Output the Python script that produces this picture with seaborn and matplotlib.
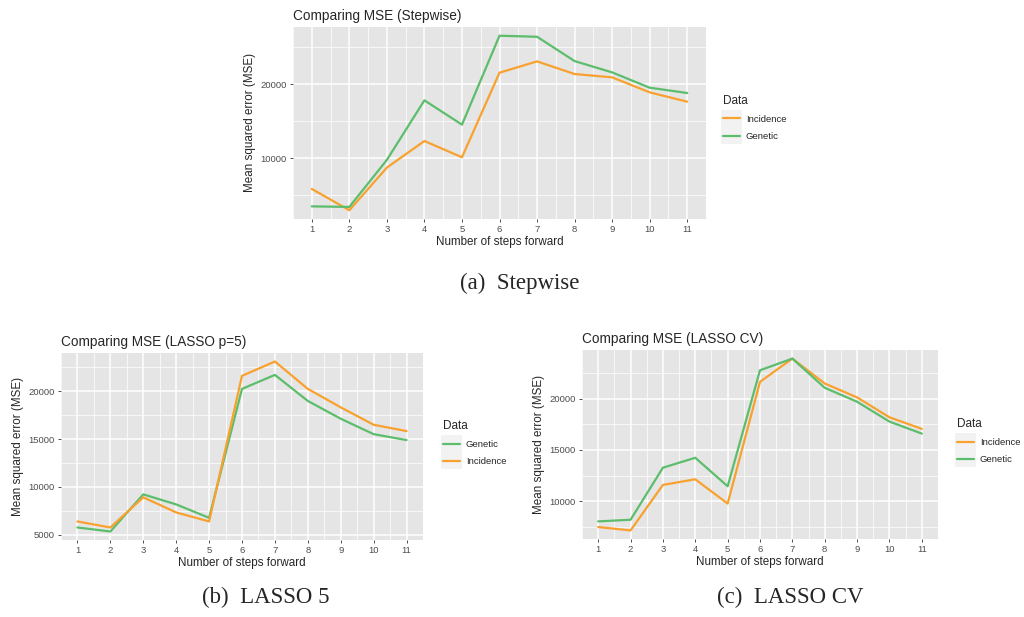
import numpy as np
import pandas as pd
import matplotlib
matplotlib.use("Agg")
import matplotlib.pyplot as plt
from matplotlib.patches import Rectangle
from matplotlib.ticker import MultipleLocator
import seaborn as sns

# ---- data ----
steps = list(range(1, 12))

step_genetic   = [3500, 3420, 9780, 17840, 14550, 26580, 26440, 23150, 21620, 19550, 18830]
step_incidence = [5860, 2970, 8740, 12340, 10140, 21580, 23110, 21400, 20950, 18920, 17660]

l5_genetic   = [5770, 5350, 9230, 8180, 6780, 20250, 21710, 18990, 17130, 15520, 14900]
l5_incidence = [6400, 5770, 8920, 7340, 6400, 21610, 23110, 20250, 18320, 16500, 15840]

cv_genetic   = [8030, 8190, 13270, 14240, 11460, 22780, 23920, 21070, 19710, 17770, 16600]
cv_incidence = [7480, 7150, 11590, 12140, 9770, 21650, 23920, 21490, 20130, 18190, 17060]

panels = [
    # title, genetic, incidence, legend order, caption, y major step
    ("Comparing MSE (Stepwise)", step_genetic, step_incidence, ["Incidence", "Genetic"], "(a)  Stepwise", 10000),
    ("Comparing MSE (LASSO p=5)", l5_genetic, l5_incidence, ["Genetic", "Incidence"], "(b)  LASSO 5", 5000),
    ("Comparing MSE (LASSO CV)", cv_genetic, cv_incidence, ["Incidence", "Genetic"], "(c)  LASSO CV", 5000),
]

palette = {"Incidence": "#F9A12E", "Genetic": "#5CBD6C"}

sns.set_theme(style="darkgrid")
plt.rcParams["font.family"] = ["Liberation Sans", "DejaVu Sans"]
plt.rcParams["axes.facecolor"] = "#E5E5E5"

fig = plt.figure(figsize=(10.24, 6.17), dpi=100)
W, H = 1024, 617

def px_axes(x0, y0, x1, y1):
    return fig.add_axes([x0 / W, 1 - y1 / H, (x1 - x0) / W, (y1 - y0) / H])

boxes = [(293, 27, 706, 219), (61, 353, 423, 540), (582, 350, 938, 539)]
leg_anchor = [(719, 91), (439, 416), (953, 414)]
captions_xy = [(520, 283), (266, 597), (790, 597)]

for (title, gen, inc, order, cap, ystep), box, lanc, cxy in zip(panels, boxes, leg_anchor, captions_xy):
    ax = px_axes(*box)
    df = pd.DataFrame({
        "step": steps * 2,
        "mse": gen + inc,
        "Data": ["Genetic"] * len(steps) + ["Incidence"] * len(steps),
    })
    sns.lineplot(data=df, x="step", y="mse", hue="Data", hue_order=order,
                 palette=palette, lw=1.6, ax=ax)
    allv = np.array(gen + inc)
    pad = 0.05 * (allv.max() - allv.min())
    ax.set_ylim(allv.min() - pad, allv.max() + pad)
    ax.set_xlim(0.5, 11.5)
    ax.xaxis.set_major_locator(MultipleLocator(1))
    ax.xaxis.set_minor_locator(MultipleLocator(0.5))
    ax.yaxis.set_major_locator(MultipleLocator(ystep))
    ax.yaxis.set_minor_locator(MultipleLocator(ystep / 2))
    ax.grid(which="major", color="white", lw=1.1)
    ax.grid(which="minor", color="white", lw=0.5)
    ax.set_axisbelow(True)
    for s in ax.spines.values():
        s.set_visible(False)
    ax.tick_params(axis="both", which="major", labelsize=6.8, labelcolor="#4D4D4D",
                   length=2.5, width=0.6, color="#333333", pad=2, bottom=True, left=True)
    ax.tick_params(axis="both", which="minor", length=0)
    ax.set_xlabel("Number of steps forward", fontsize=8.4, labelpad=1)
    ax.set_ylabel("Mean squared error (MSE)", fontsize=8.4, labelpad=3)
    ax.set_title(title, fontsize=9.8, loc="left", pad=5)

    leg = ax.legend(title="Data", frameon=False, fontsize=6.8, title_fontsize=8.5,
                    loc="upper left", bbox_to_anchor=(lanc[0] / W, 1 - lanc[1] / H),
                    bbox_transform=fig.transFigure, handlelength=1.8, handletextpad=0.65,
                    labelspacing=0.85, borderaxespad=0)
    leg._legend_box.align = "left"
    for h in leg.legend_handles:
        h.set_linewidth(1.6)

    fig.text(cxy[0] / W, 1 - cxy[1] / H, cap, ha="center", va="center",
             fontsize=16.5, family=["Liberation Serif", "DejaVu Serif"])

# grey key background behind legend handles
fig.canvas.draw()
inv = fig.transFigure.inverted()
for ax in fig.axes:
    leg = ax.get_legend()
    exts = [h.get_window_extent() for h in leg.legend_handles]
    x0 = min(e.x0 for e in exts) - 2
    x1 = max(e.x1 for e in exts) + 2
    ys = [(e.y0 + e.y1) / 2 for e in exts]
    gap = abs(ys[0] - ys[1])
    y0 = min(ys) - gap / 2
    y1 = max(ys) + gap / 2
    (fx0, fy0), (fx1, fy1) = inv.transform([(x0, y0), (x1, y1)])
    fig.add_artist(Rectangle((fx0, fy0), fx1 - fx0, fy1 - fy0, transform=fig.transFigure,
                             facecolor="#F2F2F2", edgecolor="none", zorder=0))

fig.savefig("out.png", dpi=100)
